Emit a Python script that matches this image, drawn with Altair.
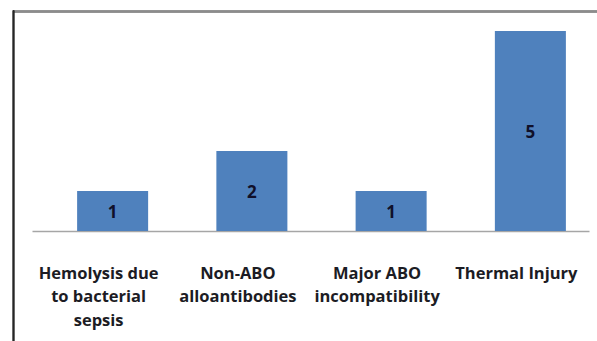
import altair as alt
import pandas as pd

categories = ["Hemolysis due\nto bacterial\nsepsis", "Non-ABO\nalloantibodies",
              "Major ABO\nincompatibility", "Thermal Injury"]
values = [1, 2, 1, 5]

df = pd.DataFrame({"cat": categories, "value": values})

FONT = "Open Sans"

x_enc = alt.X("cat:N", sort=categories, title=None,
              scale=alt.Scale(paddingInner=0.49, paddingOuter=0.245),
              axis=alt.Axis(labelExpr="split(datum.label, '\\n')", labelAngle=0,
                            labelFont=FONT, labelFontSize=16.5, labelFontWeight="bold",
                            labelColor="#1c1c24", labelLineHeight=23.5,
                            labelPadding=34, labelBaseline="top", ticks=False,
                            labelOffset=-3,
                            domainColor="#a6a6a6", domainWidth=1.5, grid=False,
                            labelLimit=300))
y_scale = alt.Scale(domain=[0, 5], nice=False, zero=True)

bars = alt.Chart(df).mark_bar(color="#4f81bd", xOffset=11).encode(
    x=x_enc,
    y=alt.Y("value:Q", scale=y_scale, axis=None),
)

labels = alt.Chart(df).transform_calculate(mid="datum.value / 2").mark_text(
    font=FONT, fontSize=17, fontWeight="bold", color="#10102a",
    xOffset=11, dy=2, baseline="middle"
).encode(
    x=alt.X("cat:N", sort=categories),
    y=alt.Y("mid:Q", scale=y_scale),
    text="value:Q",
)

top_line = alt.Chart(df).mark_rule(color="#8c8c8c", strokeWidth=2).encode(
    x=alt.value(-19), x2=alt.value(570), y=alt.value(-19.5)
)
left_line = alt.Chart(df).mark_rule(color="#262626", strokeWidth=1.5).encode(
    x=alt.value(-18.5), y=alt.value(-20.5), y2=alt.value(320)
)

chart = alt.layer(bars, labels, top_line, left_line).properties(
    width=557, height=200,
    padding={"left": 32, "top": 31, "right": 8, "bottom": 110},
    autosize=alt.AutoSizeParams(type="none"),
    background="white",
).configure_view(stroke=None)

chart.save("out.html", embed_options={"renderer": "svg", "actions": False})
